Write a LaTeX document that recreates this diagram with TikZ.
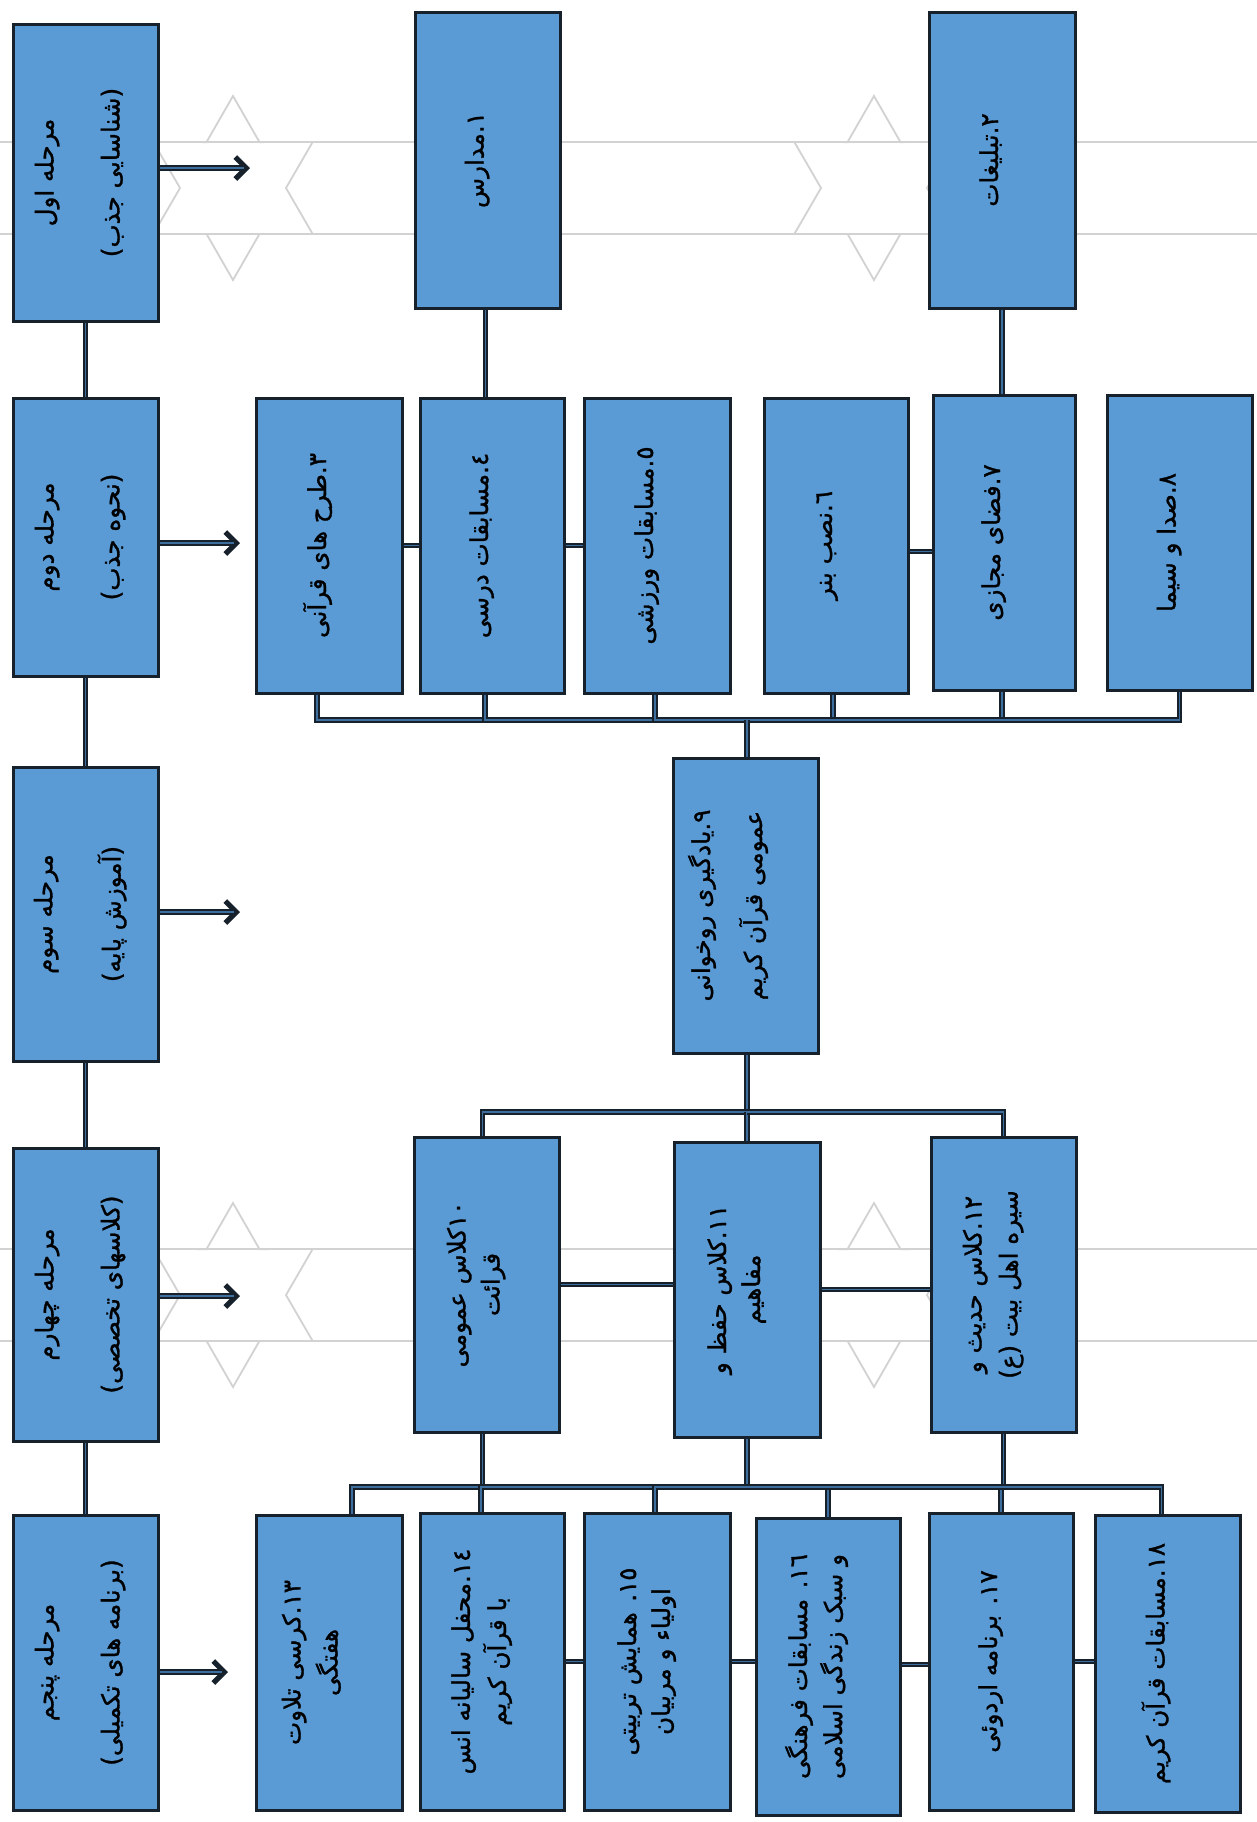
\documentclass[tikz,border=0pt]{standalone}
\usepackage{fontspec}
\usepackage{graphicx}
\usetikzlibrary{arrows.meta}
\TeXXeTstate=1
\newfontfamily\arabicfont[Script=Arabic, UprightFeatures={FakeBold=1.2}]{DejaVu Sans}
\definecolor{boxblue}{HTML}{5B9BD5}
\definecolor{edgec}{HTML}{16212C}
\definecolor{corec}{HTML}{3D6E9E}
\definecolor{patc}{HTML}{D2D2D2}
\newcommand\rl[1]{\beginR #1\endR}
\newcommand\rtext[1]{\rotatebox{90}{\begin{tabular}{@{}c@{}}#1\end{tabular}}}
\newcommand\mkbox[7][-10pt]{\node[box, minimum width={(#5-#3)*0.5pt}, minimum height={(#6-#4)*0.5pt}] (#2) at ({(#3+#5)/2},{(#4+#6)/2}) {\hspace*{#1}\rtext{#7}};}
\newcommand\hexa[2]{\draw[patline, shift={(#1,#2)}] (90:92)--(120:53)--(150:92)--(180:53)--(210:92)--(240:53)--(270:92)--(300:53)--(330:92)--(0:53)--(30:92)--(60:53)--cycle;}
\begin{document}
\begin{tikzpicture}[x=0.5pt,y=-0.5pt,
  box/.style={draw=edgec, line width=1.5pt, fill=boxblue, inner sep=0pt,
    font=\arabicfont\fontsize{12.3}{15}\selectfont, text=black},
  conn/.style={draw=edgec, line width=1.1pt, double=corec, double distance=0.6pt},
  arrline/.style={draw=edgec, line width=2.6pt, -{Straight Barb[length=5.5pt,width=11pt]}},
  arrcore/.style={draw=corec, line width=0.8pt},
  patline/.style={draw=patc, line width=0.9pt}]
\fill[white] (0,0) rectangle (1257,1822);
\useasboundingbox (0,0) rectangle (1257,1822);
% background pattern
\hexa{233}{188}
\hexa{874}{188}
\hexa{233}{1295}
\hexa{874}{1295}
\foreach \yy in {142,234,1249,1341}{\draw[patline] (0,\yy) -- (1257,\yy);}
% stages
\mkbox[-5pt]{s1}{13}{24}{158}{321}{\rl{مرحله اول}\\[18pt]\rl{(شناسایی جذب)}}
\mkbox[-5pt]{s2}{13}{398}{158}{676}{\rl{مرحله دوم}\\[18pt]\rl{(نحوه جذب)}}
\mkbox[-5pt]{s3}{13}{767}{158}{1061}{\rl{مرحله سوم}\\[18pt]\rl{(آموزش پایه)}}
\mkbox[-5pt]{s4}{13}{1148}{158}{1441}{\rl{مرحله چهارم}\\[18pt]\rl{(کلاسهای تخصصی)}}
\mkbox[-5pt]{s5}{13}{1515}{158}{1810}{\rl{مرحله پنجم}\\[18pt]\rl{(برنامه های تکمیلی)}}
% top row
\mkbox{b1}{415}{12}{560}{308}{\rl{١.مدارس}}
\mkbox{b2}{929}{12}{1075}{308}{\rl{٢.تبلیغات}}
% second row
\mkbox{b3}{256}{398}{402}{693}{\rl{٣.طرح های قرآنی}}
\mkbox{b4}{420}{398}{564}{693}{\rl{٤.مسابقات درسی}}
\mkbox{b5}{584}{398}{730}{693}{\rl{٥.مسابقات ورزشی}}
\mkbox{b6}{764}{398}{908}{693}{\rl{٦.نصب بنر}}
\mkbox{b7}{933}{395}{1075}{690}{\rl{٧.فضای مجازی}}
\mkbox{b8}{1107}{395}{1252}{690}{\rl{٨.صدا و سیما}}
% box 9
\mkbox[-16pt]{b9}{673}{758}{818}{1053}{\rl{٩.یادگیری روخوانی}\\[10pt]\rl{عمومی قرآن کریم}}
% row 10-12
\mkbox{b10}{414}{1137}{559}{1432}{\rl{١٠کلاس عمومی}\\[2pt]\rl{قرائت}}
\mkbox{b11}{674}{1142}{820}{1437}{\rl{١١.کلاس حفظ و}\\[2pt]\rl{مفاهیم}}
\mkbox{b12}{931}{1137}{1076}{1432}{\rl{١٢.کلاس حدیث و}\\[3pt]\rl{سیره اهل بیت (ع)}}
% row 13-18
\mkbox[-16pt]{b13}{256}{1515}{402}{1810}{\rl{١٣.کرسی تلاوت}\\[3pt]\rl{هفتگی}}
\mkbox{b14}{420}{1513}{564}{1810}{\rl{١٤.محفل سالیانه انس}\\[2pt]\rl{با قرآن کریم}}
\mkbox{b15}{584}{1513}{730}{1810}{\rl{١٥. همایش تربیتی}\\[2pt]\rl{اولیاء و مربیان}}
\mkbox{b16}{756}{1518}{900}{1815}{\rl{١٦. مسابقات فرهنگی}\\[2pt]\rl{و سبک زندگی اسلامی}}
\mkbox{b17}{929}{1513}{1073}{1810}{\rl{١٧. برنامه اردوئی}}
\mkbox{b18}{1095}{1515}{1240}{1812}{\rl{١٨.مسابقات قرآن کریم}}
% stage chain
\draw[conn] (s1.south) -- (s2.north);
\draw[conn] (s2.south) -- (s3.north);
\draw[conn] (s3.south) -- (s4.north);
\draw[conn] (s4.south) -- (s5.north);
% stage arrows
\coordinate (a1) at (250,168);
\coordinate (a2) at (240,543);
\coordinate (a3) at (240,912);
\coordinate (a4) at (240,1296);
\coordinate (a5) at (228,1672);
\foreach \s/\a in {s1/a1,s2/a2,s3/a3,s4/a4,s5/a5}{
  \draw[arrline] (\s.east |- \a) -- (\a);
  \draw[arrcore] (\s.east |- \a) -- ([xshift=-3pt]\a);
}
% top row to second row
\draw[conn] ([xshift=-1pt]b1.south) -- ([xshift=-1pt]b1.south |- b4.north);
\draw[conn] (b2.south) -- (b2.south |- b7.north);
% second row side links
\draw[conn] (b3.east) -- (b3.east -| b4.west);
\draw[conn] (b4.east) -- (b4.east -| b5.west);
\draw[conn] ([yshift=-3pt]b6.east) -- ([yshift=-3pt]b6.east -| b7.west);
% bus to box 9
\coordinate (bus1) at (747,720);
\draw[conn] ([xshift=-6pt]b3.south) |- (bus1);
\draw[conn] ([xshift=-3.5pt]b4.south) |- (bus1);
\draw[conn] ([xshift=-1pt]b5.south) |- (bus1);
\draw[conn] ([xshift=-1.5pt]b6.south) |- (bus1);
\draw[conn] ([xshift=-1pt]b7.south) |- (bus1);
\draw[conn] (b8.south) |- (bus1);
\draw[conn] (bus1) -- (bus1 |- b9.north);
% box 9 to row 10-12
\coordinate (bus2) at (747,1112);
\draw[conn] (b9.south -| bus2) -- (bus2);
\draw[conn] ([xshift=-2pt]b10.north) |- (bus2);
\draw[conn] (b11.north -| bus2) -- (bus2);
\draw[conn] (b12.north) |- (bus2);
\draw[conn] (b10.east) -- (b10.east -| b11.west);
\draw[conn] (b11.east) -- (b11.east -| b12.west);
% bus to row 13-18
\coordinate (bus3) at (747,1487);
\draw[conn] ([xshift=-2pt]b10.south) |- (bus3);
\draw[conn] (b11.south -| bus3) -- (bus3);
\draw[conn] (b12.south) |- (bus3);
\draw[conn] ([xshift=11.5pt]b13.north) |- (bus3);
\draw[conn] ([xshift=-5.5pt]b14.north) |- (bus3);
\draw[conn] ([xshift=-1pt]b15.north) |- (bus3);
\draw[conn] (b16.north) |- (bus3);
\draw[conn] (b17.north) |- (bus3);
\draw[conn] ([xshift=-3pt]b18.north) |- (bus3);
\draw[conn] (b14.east) -- (b14.east -| b15.west);
\draw[conn] (b15.east) -- (b15.east -| b16.west);
\draw[conn] ([yshift=1pt]b16.east) -- ([yshift=1pt]b16.east -| b17.west);
\draw[conn] (b17.east) -- (b17.east -| b18.west);
\end{tikzpicture}
\end{document}
